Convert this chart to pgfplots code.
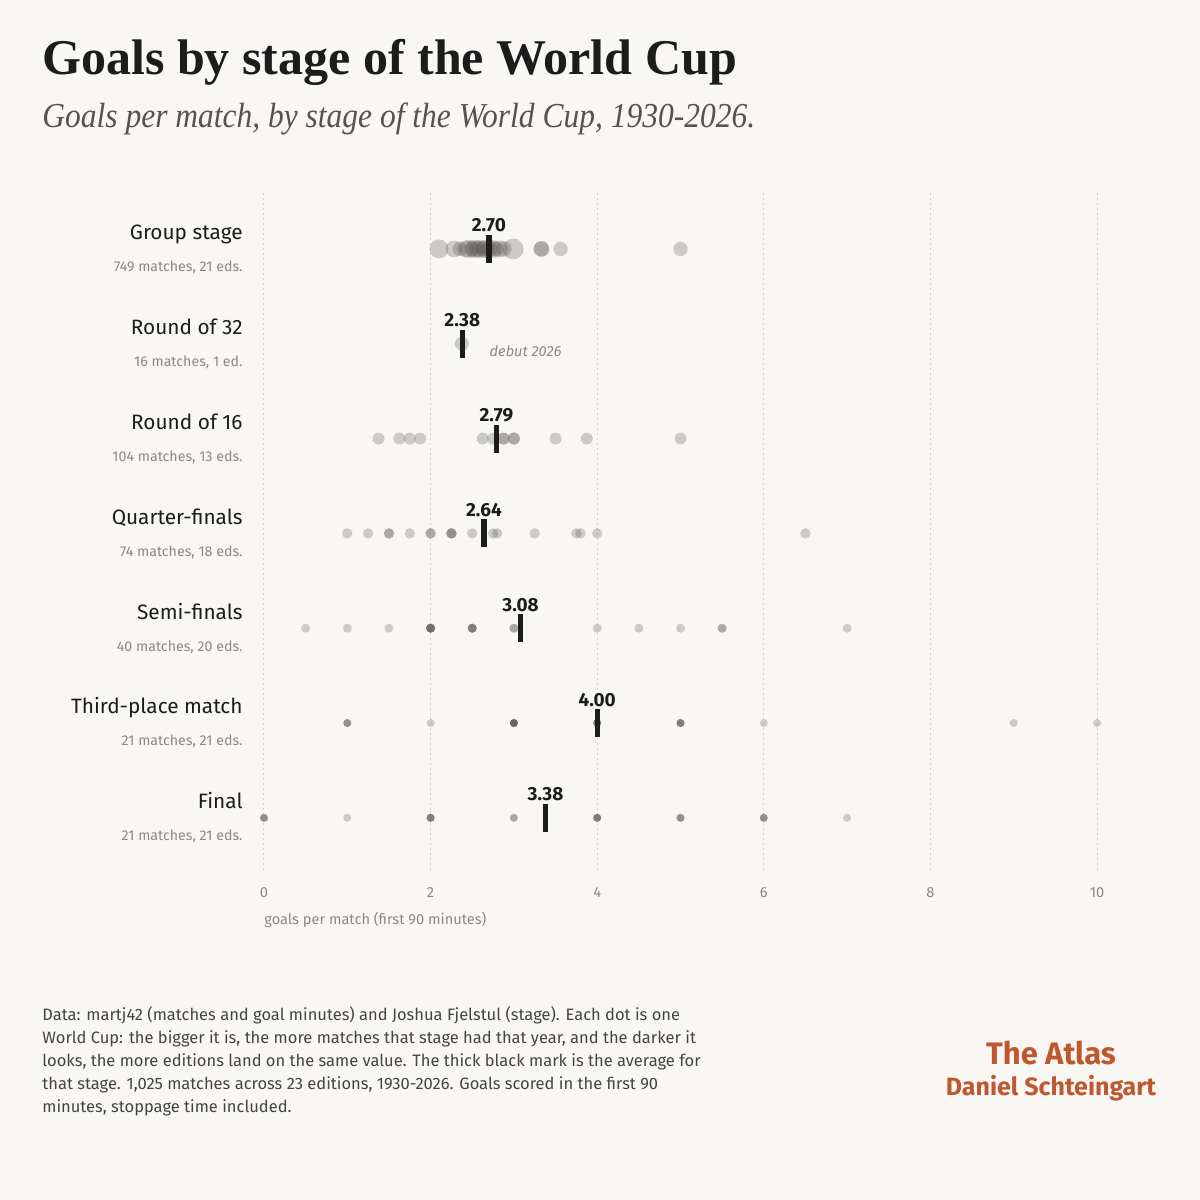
\documentclass[border=0pt]{standalone}
\usepackage{fontspec}
\setmainfont{Fira Sans}
\newfontfamily\titlefont{Liberation Serif}
\newfontfamily\subfont[FakeStretch=0.9]{Liberation Serif}
\usepackage{pgfplots}
\pgfplotsset{compat=1.18}
\usepackage{pgfplotstable}
\definecolor{bg}{HTML}{F9F7F3}
\definecolor{ink}{HTML}{1C1C1C}
\definecolor{subc}{HTML}{555250}
\definecolor{notec}{HTML}{8C8882}
\definecolor{footc}{HTML}{444444}
\definecolor{atlas}{HTML}{C0582F}
\definecolor{dotc}{HTML}{4D4A47}
\definecolor{gridc}{HTML}{D6D3CD}
\newcommand\stl[2]{{\fontsize{10.4}{12}\selectfont\color{ink}#1}\\[4pt]{\fontsize{7.1}{8.5}\selectfont\color{notec}#2}}

% group stage: one row per edition, split by dot size (matches that year)
\pgfplotstableread{
x y
2.35 6
3.56 6
5.00 6
}\groupA
\pgfplotstableread{
x y
2.50 6
2.63 6
2.78 6
2.88 6
3.33 6
3.33 6
}\groupB
\pgfplotstableread{
x y
2.28 6
2.42 6
2.56 6
2.70 6
2.83 6
}\groupC
\pgfplotstableread{
x y
2.46 6
2.53 6
2.60 6
2.66 6
2.74 6
}\groupD
\pgfplotstableread{
x y
2.10 6
}\groupE
\pgfplotstableread{
x y
2.99 6
}\groupF

\pgfplotstableread{
x y
2.375 5
}\rtwo

\pgfplotstableread{
x y
1.375 4
1.625 4
1.75 4
1.875 4
2.625 4
2.75 4
2.875 4
2.875 4
3.0 4
3.0 4
3.5 4
3.875 4
5.0 4
}\rsixteen

\pgfplotstableread{
x y
1.0 3
1.25 3
1.5 3
1.5 3
1.75 3
2.0 3
2.0 3
2.25 3
2.25 3
2.25 3
2.5 3
2.75 3
2.8 3
3.25 3
3.75 3
3.8 3
4.0 3
6.5 3
}\qf

\pgfplotstableread{
x y
0.5 2
1.0 2
1.5 2
2.0 2
2.0 2
2.0 2
2.0 2
2.0 2
2.5 2
2.5 2
2.5 2
2.5 2
3.0 2
3.0 2
4.0 2
4.5 2
5.0 2
5.5 2
5.5 2
7.0 2
}\sf

\pgfplotstableread{
x y
1 1
1 1
1 1
2 1
3 1
3 1
3 1
3 1
3 1
3 1
4 1
4 1
4 1
4 1
5 1
5 1
5 1
5 1
6 1
9 1
10 1
}\third

\pgfplotstableread{
x y
0 0
0 0
0 0
1 0
2 0
2 0
2 0
2 0
3 0
3 0
4 0
4 0
4 0
4 0
5 0
5 0
5 0
6 0
6 0
6 0
7 0
}\final

\pgfplotstableread{
x y
2.70 6
2.38 5
2.79 4
2.64 3
3.08 2
4.00 1
3.38 0
}\means

\begin{document}
\begin{tikzpicture}
\fill[bg] (0,0) rectangle (600pt,600pt);
\path[use as bounding box] (0,0) rectangle (600pt,600pt);
\node[anchor=base west, inner sep=0pt, text=ink, font=\titlefont\bfseries\fontsize{25}{30}\selectfont] at (21pt,562.5pt) {Goals by stage of the World Cup};
\node[anchor=base west, inner sep=0pt, text=subc, font=\subfont\itshape\fontsize{17.5}{21}\selectfont] at (21pt,536pt) {Goals per match, by stage of the World Cup, 1930-2026.};

\begin{axis}[
  at={(132pt,165pt)}, anchor=south west,
  scale only axis, width=416.5pt, height=338.5pt,
  xmin=0, xmax=10, ymin=-0.55, ymax=6.59,
  clip=false,
  axis line style={draw=none},
  major tick length=0pt,
  xtick={0,2,4,6,8,10},
  ytick={0,1,2,3,4,5,6},
  yticklabels={
    {\stl{Final}{21 matches, 21 eds.}},
    {\stl{Third-place match}{21 matches, 21 eds.}},
    {\stl{Semi-finals}{40 matches, 20 eds.}},
    {\stl{Quarter-finals}{74 matches, 18 eds.}},
    {\stl{Round of 16}{104 matches, 13 eds.}},
    {\stl{Round of 32}{16 matches, 1 ed.}},
    {\stl{Group stage}{749 matches, 21 eds.}}},
  yticklabel style={anchor=east, align=right, inner sep=0pt, xshift=-10.5pt},
  xticklabel style={anchor=base, inner sep=0pt, yshift=-14pt, text=notec, font=\fontsize{7.3}{8.5}\selectfont},
  /pgf/number format/assume math mode=true,
  xmajorgrids,
  major grid style={gridc, line width=0.5pt, dash pattern=on 1pt off 1.5pt},
  xlabel={goals per match (first 90 minutes)},
  xlabel style={at={(rel axis cs:0,0)}, anchor=base west, inner sep=0pt, yshift=-27.5pt, text=notec, font=\fontsize{7.3}{8.5}\selectfont},
  every axis plot/.append style={only marks, mark=*, mark options={draw opacity=0, fill=dotc, fill opacity=0.26}},
]
\addplot[mark size=3.6pt] table[x=x,y=y] {\groupA};
\addplot[mark size=3.9pt] table[x=x,y=y] {\groupB};
\addplot[mark size=4.2pt] table[x=x,y=y] {\groupC};
\addplot[mark size=4.5pt] table[x=x,y=y] {\groupD};
\addplot[mark size=4.75pt] table[x=x,y=y] {\groupE};
\addplot[mark size=5.25pt] table[x=x,y=y] {\groupF};
\addplot[mark size=3.5pt] table[x=x,y=y] {\rtwo};
\addplot[mark size=3pt] table[x=x,y=y] {\rsixteen};
\addplot[mark size=2.6pt] table[x=x,y=y] {\qf};
\addplot[mark size=2.25pt] table[x=x,y=y] {\sf};
\addplot[mark size=2pt] table[x=x,y=y] {\third};
\addplot[mark size=2pt] table[x=x,y=y] {\final};
\addplot[mark=|, mark size=7pt, mark options={line width=2.7pt, draw=ink, draw opacity=1},
  point meta=x,
  nodes near coords={\pgfmathprintnumber[fixed,fixed zerofill,precision=2]{\pgfplotspointmeta}},
  nodes near coords style={anchor=base, inner sep=0pt, yshift=8.5pt, text=ink, font=\bfseries\fontsize{9.5}{11}\selectfont}]
  table[x=x,y=y] {\means};
\node[anchor=base west, inner sep=0pt, text=notec, font=\itshape\fontsize{7.3}{8}\selectfont] at (axis cs:2.38,5) [xshift=13.5pt, yshift=-6.5pt] {debut 2026};
\end{axis}

\node[anchor=base west, inner sep=0pt, align=left, text=footc, font=\fontsize{8.25}{11.6}\selectfont] at (21pt,43.5pt) {Data: martj42 (matches and goal minutes) and Joshua Fjelstul (stage). Each dot is one\\
World Cup: the bigger it is, the more matches that stage had that year, and the darker it\\
looks, the more editions land on the same value. The thick black mark is the average for\\
that stage. 1,025 matches across 23 editions, 1930-2026. Goals scored in the first 90\\
minutes, stoppage time included.};
\node[anchor=base, inner sep=0pt, text=atlas, font=\bfseries\fontsize{15.5}{18}\selectfont] at (525.5pt,67.5pt) {The Atlas};
\node[anchor=base, inner sep=0pt, text=atlas, font=\bfseries\fontsize{12.5}{15}\selectfont] at (525.5pt,52pt) {Daniel Schteingart};
\end{tikzpicture}
\end{document}
